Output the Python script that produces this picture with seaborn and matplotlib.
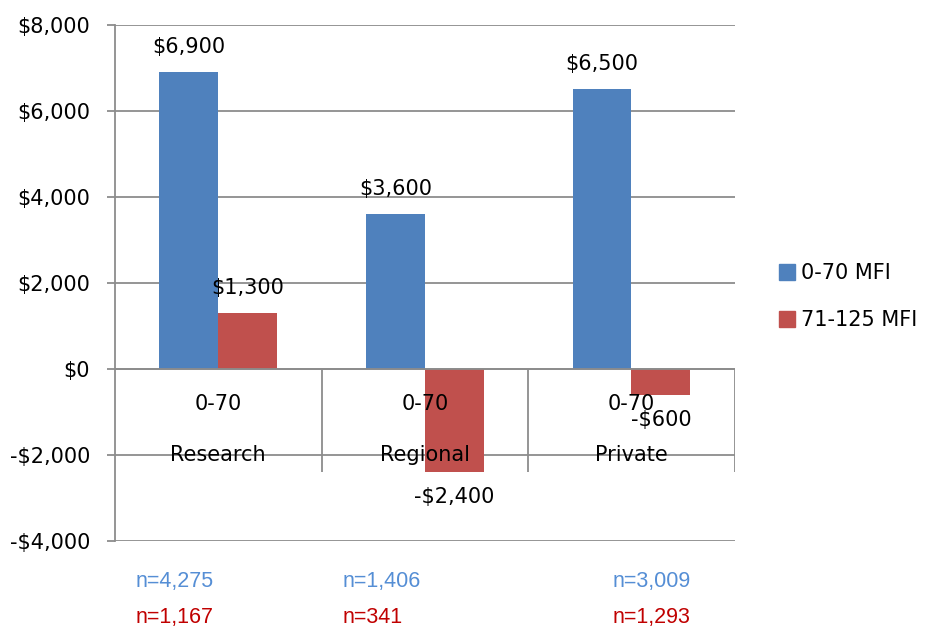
import pandas as pd
import seaborn as sns
import matplotlib.pyplot as plt
from matplotlib.transforms import blended_transform_factory
from matplotlib.patches import Patch

# Data
sectors = ["Research", "Regional", "Private"]
income_groups = ["0-70 MFI", "71-125 MFI"]
low_income = [6900, 3600, 6500]
mid_income = [1300, -2400, -600]
n_low = ["n=4,275", "n=1,406", "n=3,009"]
n_mid = ["n=1,167", "n=341", "n=1,293"]
sub_label = "0-70"
y_ticks = [-4000, -2000, 0, 2000, 4000, 6000, 8000]

colors = ["#4F81BD", "#C0504D"]
grid_gray = "#8C8C8C"


def money(v):
    return f"-${abs(v):,.0f}" if v < 0 else f"${v:,.0f}"


def main():
    df = pd.DataFrame({
        "sector": sectors * 2,
        "group": [income_groups[0]] * 3 + [income_groups[1]] * 3,
        "value": low_income + mid_income,
    })

    sns.set_style("white")
    plt.rcParams["font.family"] = ["DejaVu Sans"]
    plt.rcParams["text.color"] = "black"
    plt.rcParams["ytick.labelcolor"] = "black"
    fs = 15

    fig = plt.figure(figsize=(9.25, 6.34), dpi=100)
    ax = fig.add_axes([0.1243, 0.1467, 0.670, 0.8139])

    sns.barplot(data=df, x="sector", y="value", hue="group", order=sectors,
                hue_order=income_groups, palette=colors, width=0.57,
                saturation=1, errorbar=None, ax=ax, legend=False, zorder=3,
                linewidth=0)

    ax.set_xlim(-0.5, 2.5)
    ax.set_ylim(-4000, 8000)
    ax.set_yticks(y_ticks)
    ax.set_yticklabels([money(v) for v in y_ticks], fontsize=fs)
    ax.set_xticks([])
    ax.set_xlabel("")
    ax.set_ylabel("")

    # gridlines and frame
    ax.yaxis.grid(True, color=grid_gray, linewidth=1.3, zorder=0)
    for side in ["top", "right", "bottom"]:
        ax.spines[side].set_visible(False)
    ax.spines["left"].set_color(grid_gray)
    ax.spines["left"].set_linewidth(1.3)
    ax.tick_params(axis="y", length=6, width=1.3, color=grid_gray, pad=12,
                   left=True, labelcolor="black")

    # bar value labels
    for cont in ax.containers:
        ax.bar_label(cont, labels=[money(v) for v in cont.datavalues],
                     padding=11, fontsize=fs, color="black")

    # two-level category axis at zero
    ax.axhline(0, color=grid_gray, linewidth=1.3, zorder=4)
    ax.vlines([0.5, 1.5, 2.5], -2400, 0, color=grid_gray, linewidth=1.3,
              zorder=2)
    for i, s in enumerate(sectors):
        ax.text(i, -820, sub_label, ha="center", va="center", fontsize=fs,
                zorder=5)
        ax.text(i, -2000, s, ha="center", va="center", fontsize=fs, zorder=5)

    # sample sizes under the chart
    trans = blended_transform_factory(ax.transData, ax.transAxes)
    n_x = [-0.40, 0.60, 1.91]
    for x, a, b in zip(n_x, n_low, n_mid):
        ax.text(x, -0.079, a, transform=trans, ha="left", va="center",
                fontsize=15.5, color="#558ED5", family="Liberation Sans")
        ax.text(x, -0.149, b, transform=trans, ha="left", va="center",
                fontsize=15.5, color="#C00000", family="Liberation Sans")

    handles = [Patch(color=c, label=g) for c, g in zip(colors, income_groups)]
    fig.legend(handles=handles, loc="center left",
               bbox_to_anchor=(0.822, 0.532), frameon=False, fontsize=fs,
               handlelength=0.75, handleheight=0.75, handletextpad=0.3,
               labelspacing=1.3)

    fig.savefig("out.png", dpi=100)


if __name__ == "__main__":
    main()
